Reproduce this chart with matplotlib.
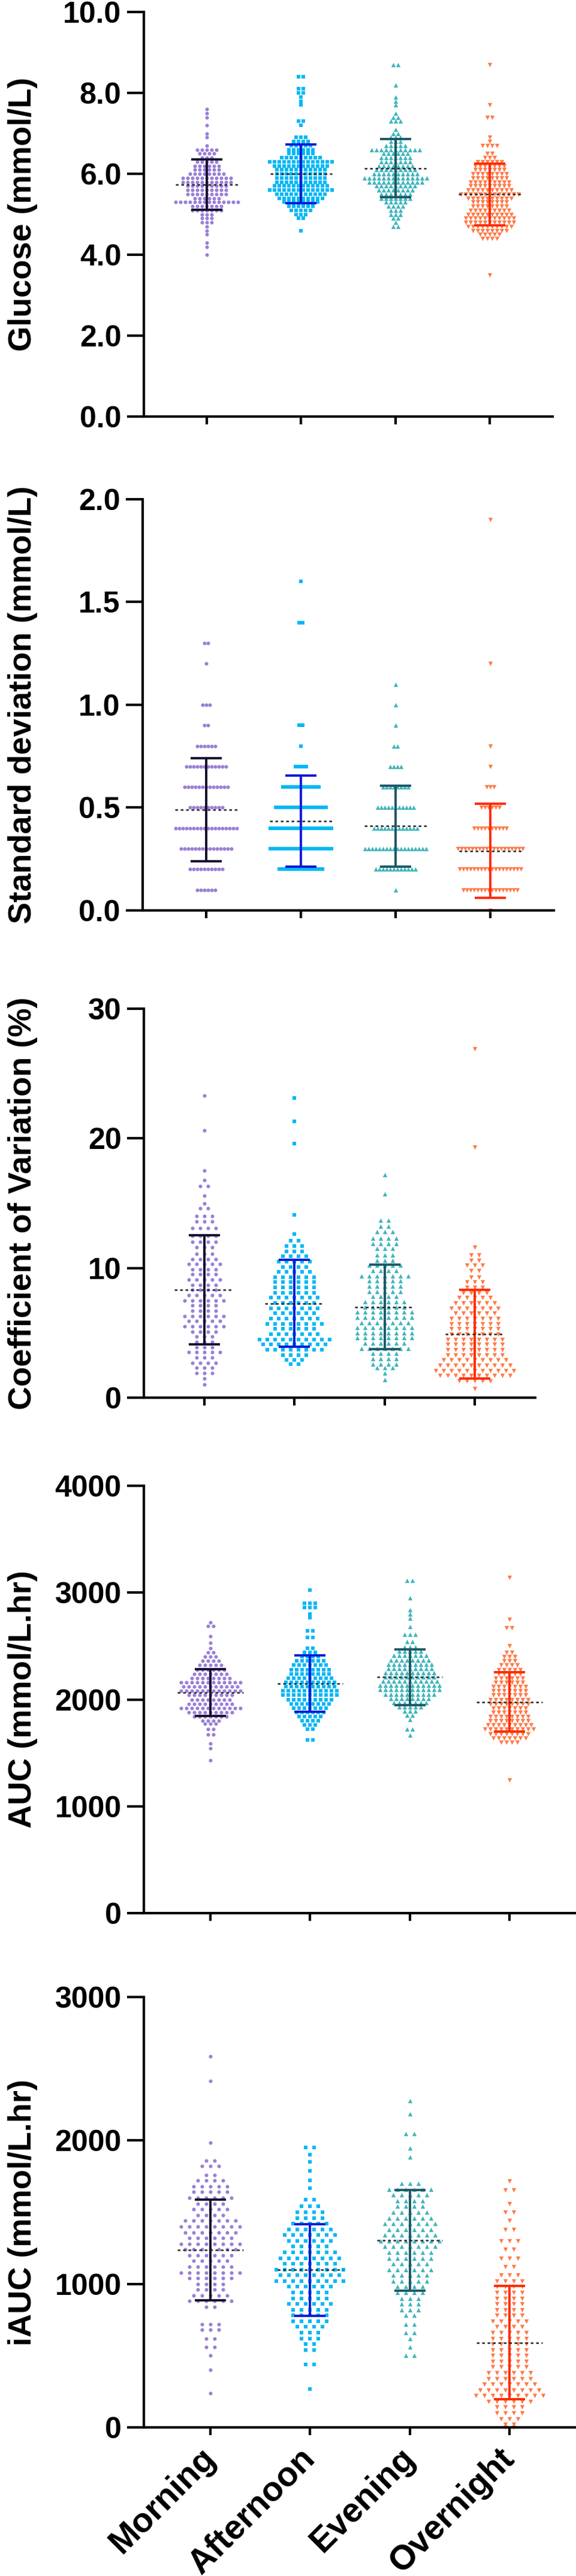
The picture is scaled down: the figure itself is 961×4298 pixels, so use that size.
import matplotlib
matplotlib.use("Agg")
import matplotlib.pyplot as plt
from matplotlib.ticker import FormatStrFormatter

plt.rcParams["font.family"] = ["Liberation Sans", "DejaVu Sans"]
plt.rcParams["font.weight"] = "bold"

groups = ["Morning", "Afternoon", "Evening", "Overnight"]
dot_colors = ["#9a7fd6", "#00b8f5", "#3fb5bb", "#ff7a48"]
bar_colors = ["#150f2c", "#0a18d8", "#1d5865", "#ff2a00"]
markers = ["o", "s", "^", "v"]
msize = [19, 24, 28, 28]

# each group: (value, number of subjects at that value)
glu_morning = [(7.6,1),(7.5,1),(7.4,1),(7.2,1),(7.0,1),(6.9,1),(6.7,1),(6.6,5),(6.5,4),(6.4,3),
               (6.3,5),(6.2,6),(6.1,6),(6.0,8),(5.9,11),(5.8,11),(5.7,9),(5.6,9),(5.5,9),(5.4,6),
               (5.3,14),(5.2,7),(5.1,7),(5.0,3),(4.9,3),(4.8,3),(4.7,1),(4.6,1),(4.5,1),(4.3,1),
               (4.2,1),(4.0,1)]
glu_afternoon = [(8.4,2),(8.1,2),(8.0,2),(7.9,1),(7.8,1),(7.7,1),(7.3,2),(7.2,1),(6.9,3),(6.8,4),
                 (6.7,5),(6.6,6),(6.5,6),(6.4,9),(6.3,14),(6.2,12),(6.1,11),(6.0,11),(5.9,11),(5.8,11),
                 (5.7,12),(5.6,14),(5.5,11),(5.4,10),(5.3,8),(5.2,6),(5.1,5),(5.0,3),(4.9,2),(4.6,1)]
glu_evening = [(8.7,2),(8.2,1),(7.9,1),(7.8,1),(7.7,1),(7.5,1),(7.4,2),(7.3,3),(7.1,1),(7.0,2),
               (6.9,3),(6.8,3),(6.7,5),(6.6,11),(6.5,6),(6.4,7),(6.3,7),(6.2,8),(6.1,9),(6.0,10),
               (5.9,14),(5.8,12),(5.7,9),(5.6,8),(5.5,7),(5.4,7),(5.3,5),(5.2,4),(5.1,3),(5.0,3),
               (4.9,2),(4.8,1),(4.7,2)]
glu_overnight = [(8.7,1),(7.7,1),(7.4,2),(6.9,1),(6.8,1),(6.7,4),(6.5,2),(6.4,3),(6.3,6),(6.2,7),
                 (6.1,7),(6.0,8),(5.9,8),(5.8,9),(5.7,9),(5.6,10),(5.5,13),(5.4,10),(5.3,8),(5.2,8),
                 (5.1,9),(5.0,10),(4.9,11),(4.8,11),(4.7,10),(4.6,8),(4.5,5),(4.4,4),(3.5,1)]
glu_mean = [5.73, 6.00, 6.14, 5.49]
glu_sd = [0.62, 0.73, 0.72, 0.76]

sd_morning = [(0.1,6),(0.2,10),(0.3,15),(0.4,18),(0.5,10),(0.6,13),(0.7,12),(0.8,6),(0.9,2),
              (1.0,3),(1.2,1),(1.3,2)]
sd_afternoon = [(0.2,13),(0.3,18),(0.4,18),(0.5,15),(0.6,11),(0.7,4),(0.8,1),(0.9,2),(1.4,2),(1.6,1)]
sd_evening = [(0.1,1),(0.2,12),(0.3,18),(0.4,13),(0.5,11),(0.6,8),(0.7,4),(0.8,2),(0.9,1),(1.0,1),(1.1,1)]
sd_overnight = [(0.0,1),(0.1,16),(0.2,18),(0.3,19),(0.4,10),(0.5,6),(0.6,3),(0.7,1),(0.8,1),(1.2,1),(1.9,1)]
sd_mean = [0.49, 0.435, 0.41, 0.29]
sd_sd = [0.25, 0.222, 0.197, 0.23]

cv_morning = [(23.3,1),(20.6,1),(17.5,1),(16.8,1),(16.3,2),(15.6,1),(15.0,1),(14.6,2),(14.0,3),(13.6,3),
              (13.1,4),(12.5,4),(12.0,4),(11.6,3),(11.1,3),(10.7,4),(10.3,5),(9.9,4),(9.5,4),(9.1,5),
              (8.7,4),(8.3,4),(7.9,5),(7.5,6),(7.1,4),(6.7,4),(6.3,6),(5.9,5),(5.5,6),(5.1,4),
              (4.7,3),(4.3,3),(3.9,3),(3.5,5),(3.1,3),(2.7,4),(2.3,3),(1.9,3),(1.5,1),(1.0,1)]
cv_afternoon = [(23.1,1),(21.3,1),(19.6,1),(14.1,1),(12.6,1),(12.1,2),(11.7,3),(11.3,3),(10.9,4),(10.5,5),
                (10.1,4),(9.7,5),(9.3,6),(8.9,6),(8.5,6),(8.1,6),(7.7,7),(7.3,6),(6.9,7),(6.5,6),
                (6.1,7),(5.7,8),(5.3,6),(4.9,7),(4.5,10),(4.1,9),(3.7,8),(3.3,4),(2.9,3),(2.6,2)]
cv_evening = [(17.2,1),(15.7,1),(13.7,2),(13.2,2),(12.8,3),(12.3,4),(11.9,4),(11.5,3),(11.0,3),(10.6,3),
              (10.2,5),(9.8,4),(9.4,7),(9.0,5),(8.6,5),(8.2,5),(7.8,4),(7.4,6),(7.0,6),(6.6,8),
              (6.2,8),(5.8,7),(5.4,8),(5.0,8),(4.6,8),(4.2,6),(3.8,7),(3.4,4),(3.0,4),(2.6,4),
              (2.3,3),(1.9,1),(1.4,1)]
cv_overnight = [(26.9,1),(19.3,1),(11.6,1),(11.0,2),(10.6,2),(10.2,3),(9.8,2),(9.3,2),(8.9,3),(8.5,3),
                (8.1,4),(7.7,5),(7.3,6),(6.9,7),(6.5,6),(6.1,7),(5.7,7),(5.3,7),(4.9,7),(4.5,8),
                (4.1,8),(3.7,8),(3.3,8),(2.9,9),(2.5,10),(2.1,11),(1.7,10),(1.3,5),(0.7,1)]
cv_mean = [8.33, 7.27, 6.99, 4.90]
cv_sd = [4.2, 3.35, 3.25, 3.4]

auc_morning = [(2720,1),(2690,2),(2590,1),(2530,1),(2480,1),(2440,2),(2400,3),(2360,4),(2320,5),(2280,6),
               (2240,7),(2200,8),(2160,12),(2120,11),(2080,12),(2040,9),(2000,8),(1960,9),(1920,12),(1880,9),
               (1840,7),(1800,4),(1770,3),(1720,2),(1670,2),(1590,1),(1540,1),(1430,1)]
auc_afternoon = [(3025,1),(2900,3),(2860,3),(2800,1),(2765,1),(2640,2),(2580,2),(2480,2),(2440,3),(2400,4),
                 (2360,6),(2320,7),(2280,8),(2240,8),(2200,9),(2160,10),(2120,10),(2080,11),(2040,11),(2000,9),
                 (1960,8),(1920,7),(1880,6),(1840,5),(1800,4),(1760,3),(1720,2),(1620,2)]
auc_evening = [(3115,2),(2950,1),(2840,1),(2800,1),(2760,1),(2680,1),(2610,3),(2540,2),(2490,3),(2450,5),
               (2410,7),(2370,8),(2330,9),(2290,9),(2250,10),(2210,10),(2170,11),(2130,12),(2090,12),(2050,10),
               (2010,8),(1970,7),(1930,5),(1890,3),(1850,2),(1810,1),(1724,2),(1666,1)]
auc_overnight = [(3144,1),(2751,1),(2673,2),(2500,1),(2440,2),(2400,3),(2360,3),(2320,4),(2280,5),(2240,5),
                 (2200,6),(2160,6),(2120,7),(2080,7),(2040,7),(2000,8),(1960,8),(1920,7),(1880,7),(1840,8),
                 (1800,8),(1760,9),(1720,10),(1680,8),(1640,7),(1600,4),(1243,1)]
auc_mean = [2065, 2151, 2208, 1976]
auc_sd = [218, 264, 260, 278]

iauc_morning = [(2588,1),(2417,1),(1986,1),(1860,2),(1820,3),(1760,2),(1720,4),(1680,5),(1640,5),(1600,6),
                (1560,4),(1520,5),(1480,4),(1440,7),(1400,8),(1360,7),(1320,6),(1280,8),(1240,7),(1200,6),
                (1160,5),(1120,6),(1080,8),(1040,6),(1000,4),(960,4),(920,5),(880,6),(840,2),(720,3),
                (680,3),(620,2),(560,2),(500,1),(400,1),(240,1)]
iauc_afternoon = [(1950,2),(1900,1),(1850,1),(1790,1),(1720,1),(1667,1),(1587,2),(1540,3),(1500,4),(1460,4),
                  (1420,5),(1380,6),(1340,7),(1300,6),(1260,5),(1220,7),(1180,8),(1140,7),(1100,9),(1060,8),
                  (1020,9),(980,6),(940,5),(900,5),(860,6),(820,5),(780,5),(740,5),(700,4),(660,3),
                  (620,3),(580,2),(540,2),(440,2),(267,1)]
iauc_evening = [(2277,1),(2184,1),(2049,2),(1947,1),(1884,1),(1700,3),(1660,6),(1620,5),(1580,4),(1540,4),
                (1500,5),(1460,6),(1420,7),(1380,6),(1340,7),(1300,8),(1260,7),(1220,6),(1180,6),(1140,5),
                (1100,6),(1060,5),(1020,5),(980,4),(940,4),(900,3),(860,3),(820,3),(780,2),(720,2),
                (660,2),(620,1),(560,1),(501,2)]
iauc_overnight = [(1719,1),(1656,2),(1560,1),(1500,2),(1440,1),(1380,2),(1300,3),(1240,2),(1180,3),(1120,2),
                  (1060,3),(1020,4),(980,4),(940,4),(900,4),(860,4),(820,4),(780,4),(740,5),(700,4),
                  (660,5),(620,5),(580,5),(540,5),(500,5),(460,5),(420,5),(380,6),(340,6),(300,7),
                  (260,8),(220,9),(180,6),(140,4),(100,4),(60,3),(20,2),(0,2)]
iauc_mean = [1237, 1097, 1305, 591]
iauc_sd = [350, 318, 351, 396]

panels = [
    dict(label="Glucose (mmol/L)", data=[glu_morning, glu_afternoon, glu_evening, glu_overnight],
         mean=glu_mean, sd=glu_sd, ylim=(0, 10), ticks=[0, 2, 4, 6, 8, 10], fmt="%.1f", gap=8),
    dict(label="Standard deviation (mmol/L)", data=[sd_morning, sd_afternoon, sd_evening, sd_overnight],
         mean=sd_mean, sd=sd_sd, ylim=(0, 2), ticks=[0, 0.5, 1.0, 1.5, 2.0], fmt="%.1f", gap=6),
    dict(label="Coefficient of Variation (%)", data=[cv_morning, cv_afternoon, cv_evening, cv_overnight],
         mean=cv_mean, sd=cv_sd, ylim=(0, 30), ticks=[0, 10, 20, 30], fmt="%d", gap=13),
    dict(label="AUC (mmol/L.hr)", data=[auc_morning, auc_afternoon, auc_evening, auc_overnight],
         mean=auc_mean, sd=auc_sd, ylim=(0, 4000), ticks=[0, 1000, 2000, 3000, 4000], fmt="%d", gap=9),
    dict(label="iAUC (mmol/L.hr)", data=[iauc_morning, iauc_afternoon, iauc_evening, iauc_overnight],
         mean=iauc_mean, sd=iauc_sd, ylim=(0, 3000), ticks=[0, 1000, 2000, 3000], fmt="%d", gap=14),
]

FIG_W, FIG_H, DPI = 961, 4298, 100
# axes frames in pixels: left, top, right, bottom
frames = [(240, 20, 922, 695), (238, 833, 924, 1519), (240, 1683, 893, 2332),
          (240, 2479, 961, 3192), (240, 3332, 961, 4050)]
XLIM = (-0.67, 3.67)

fig = plt.figure(figsize=(FIG_W / DPI, FIG_H / DPI), dpi=DPI)

for n, (p, (l, t, r, b)) in enumerate(zip(panels, frames)):
    ax = fig.add_axes([l / FIG_W, 1 - b / FIG_H, (r - l) / FIG_W, (b - t) / FIG_H])
    ax.set_xlim(*XLIM)
    ax.set_ylim(*p["ylim"])
    px_per_cat = (r - l) / (XLIM[1] - XLIM[0])

    for i, rows in enumerate(p["data"]):
        xs, ys = [], []
        for v, cnt in rows:
            for k in range(cnt):
                xs.append(i + (k - (cnt - 1) / 2) * p["gap"] / px_per_cat)
                ys.append(v)
        ax.scatter(xs, ys, s=msize[i], marker=markers[i], color=dot_colors[i],
                   linewidths=0, zorder=2, clip_on=False)
        ax.errorbar(i, p["mean"][i], yerr=p["sd"][i], fmt="none", ecolor=bar_colors[i],
                    elinewidth=2.8, capsize=19, capthick=2.8, zorder=3)
        ax.hlines(p["mean"][i], i - 0.33, i + 0.33, colors="#262626",
                  linestyles=(0, (1.8, 1.8)), linewidth=1.8, zorder=4)

    for side in ["top", "right"]:
        ax.spines[side].set_visible(False)
    for side in ["left", "bottom"]:
        ax.spines[side].set_linewidth(3)
    ax.set_yticks(p["ticks"])
    ax.yaxis.set_major_formatter(FormatStrFormatter(p["fmt"]))
    ax.tick_params(axis="y", length=20, width=3, labelsize=36, pad=7)
    ax.tick_params(axis="x", length=9, width=3)
    ax.set_xticks(range(4))
    if n == len(panels) - 1:
        ax.set_xticklabels(groups, rotation=45, ha="right", va="center",
                           rotation_mode="anchor", fontsize=41, fontweight="bold")
        ax.tick_params(axis="x", pad=22)
    else:
        ax.set_xticklabels([])

    fig.text(38 / FIG_W, 1 - (t + b) / 2 / FIG_H, p["label"], rotation=90,
             ha="center", va="center", fontsize=39, fontweight="bold")

fig.savefig("out.png", dpi=DPI)
